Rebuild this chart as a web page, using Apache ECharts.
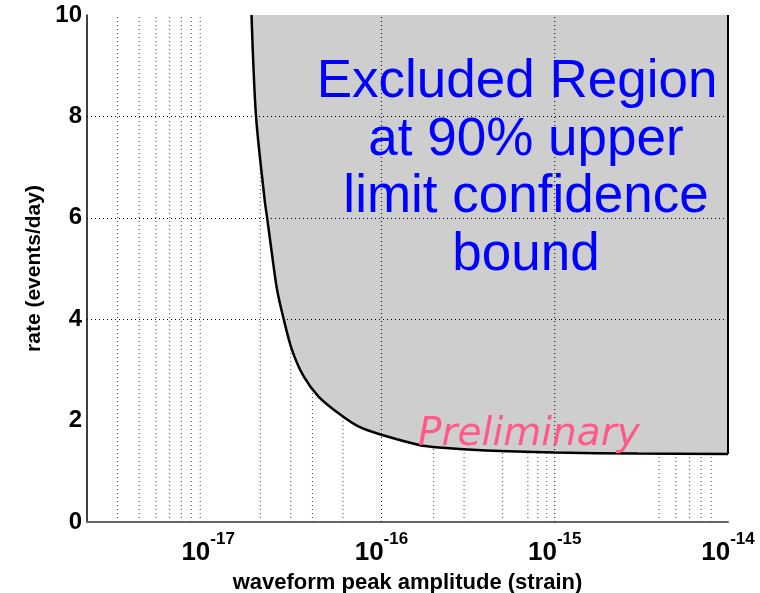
<!DOCTYPE html>
<html>
<head>
<meta charset="utf-8">
<script src="https://cdn.jsdelivr.net/npm/echarts@6/dist/echarts.min.js"></script>
<style>
  html, body { margin: 0; padding: 0; background: #fff; }
  #chart { width: 760px; height: 593px; }
</style>
</head>
<body>
<div id="chart"></div>
<script>
// upper limit curve (amplitude in strain, rate in events/day)
var amplitude = [1.78e-17, 1.89e-17, 2.12e-17, 2.19e-17, 2.32e-17, 2.50e-17, 2.73e-17, 3.05e-17, 3.56e-17,
                 4.35e-17, 5.68e-17, 7.41e-17, 1.0e-16, 1.65e-16, 2.15e-16, 4.0e-16, 1.0e-15, 3.0e-15, 1.0e-14];
var rate = [10, 8, 6.35, 6, 5.36, 4.58, 4, 3.39, 2.87,
            2.47, 2.14, 1.88, 1.72, 1.52, 1.47, 1.41, 1.37, 1.35, 1.34];

// axes
var xMin = 2e-18, xMax = 1e-14;
var yMin = 0, yMax = 10, yStep = 2;

// grid lines that show in the picture
var majorGridX = [1e-16, 1e-15];
var majorGridY = [4, 6, 8];
var minorGridX = [3e-18, 4e-18, 5e-18, 6e-18, 7e-18, 8e-18, 9e-18,
                  2e-17, 3e-17, 4e-17, 6e-17,
                  2e-16, 3e-16, 5e-16, 7e-16, 8e-16, 9e-16,
                  4e-15, 5e-15, 6e-15, 7e-15, 8e-15];

var curve = [];
for (var i = 0; i < amplitude.length; i++) {
    curve.push([amplitude[i], rate[i]]);
}
var last = amplitude.length - 1;
var edge = [[amplitude[last], rate[last]], [amplitude[last], yMax]];

var myChart = echarts.init(document.getElementById('chart'));
var FONT = 'Liberation Sans';

// one vertical dotted line per grid value
function vLines(values, color, z) {
    return values.map(function (v) {
        return {
            type: 'line',
            data: [[v, yMin], [v, yMax]],
            showSymbol: false,
            silent: true,
            z: z,
            lineStyle: { type: [1, 3], color: color, width: 1 }
        };
    });
}

var series = [];
series = series.concat(vLines(minorGridX, '#444', 1));
series.push({   // excluded region
    type: 'line',
    data: curve,
    smooth: 0.3,
    showSymbol: false,
    silent: true,
    z: 2,
    lineStyle: { width: 0 },
    areaStyle: { color: '#cecece', opacity: 1, origin: 'end' }
});
series = series.concat(vLines(majorGridX, '#000', 3));
series.push({   // horizontal grid on top of the fill
    type: 'line',
    data: curve,
    showSymbol: false,
    silent: true,
    z: 3,
    lineStyle: { opacity: 0 },
    markLine: {
        silent: true,
        z: 3,
        symbol: 'none',
        label: { show: false },
        lineStyle: { type: [1, 3], color: '#000', width: 1 },
        data: majorGridY.map(function (v) { return { yAxis: v }; })
    }
});
series.push({   // upper limit curve
    type: 'line',
    data: curve,
    smooth: 0.3,
    showSymbol: false,
    silent: true,
    z: 4,
    lineStyle: { color: '#000', width: 2.5 }
});
series.push({
    type: 'line',
    data: edge,
    showSymbol: false,
    silent: true,
    z: 4,
    lineStyle: { color: '#000', width: 2 }
});

var option = {
    backgroundColor: '#fff',
    animation: false,
    grid: { left: 87, right: 32, top: 15, bottom: 71, outerBoundsMode: 'none' },
    xAxis: {
        type: 'log',
        logBase: 10,
        min: xMin,
        max: xMax,
        name: 'waveform peak amplitude (strain)',
        nameLocation: 'middle',
        nameGap: 50,
        nameTextStyle: { fontFamily: FONT, fontSize: 22, fontWeight: 'bold', color: '#000' },
        axisLine: { lineStyle: { color: '#666', width: 2 } },
        axisTick: { show: false },
        splitLine: { show: false },
        axisLabel: {
            margin: 9,
            formatter: function (v) {
                var e = Math.log10(v);
                if (Math.abs(e - Math.round(e)) > 1e-6) return '';
                return '{b|10}{e|' + Math.round(e) + '}';
            },
            rich: {
                b: { fontFamily: FONT, fontSize: 26, fontWeight: 'bold', color: '#000', verticalAlign: 'bottom', padding: [9, 0, 0, 0] },
                e: { fontFamily: FONT, fontSize: 17, fontWeight: 'bold', color: '#000', verticalAlign: 'top' }
            }
        }
    },
    yAxis: {
        type: 'value',
        min: yMin,
        max: yMax,
        interval: yStep,
        name: 'rate (events/day)',
        nameLocation: 'middle',
        nameGap: 40,
        nameTextStyle: { fontFamily: FONT, fontSize: 21, fontWeight: 'bold', color: '#000' },
        axisLine: { show: true, lineStyle: { color: '#000', width: 1.5 } },
        axisTick: { show: false },
        splitLine: { show: false },
        axisLabel: { margin: 5, fontFamily: FONT, fontSize: 24, fontWeight: 'bold', color: '#000' }
    },
    series: series,
    graphic: [
        {
            type: 'text',
            x: 517,
            y: 54,
            z: 10,
            style: {
                text: 'Excluded Region',
                fill: '#0000ff',
                fontFamily: FONT,
                fontSize: 53,
                lineHeight: 57.5,
                align: 'center',
                verticalAlign: 'top'
            }
        },
        {
            type: 'text',
            x: 526,
            y: 111.5,
            z: 10,
            style: {
                text: 'at 90% upper\nlimit confidence\nbound',
                fill: '#0000ff',
                fontFamily: FONT,
                fontSize: 53,
                lineHeight: 57.5,
                align: 'center',
                verticalAlign: 'top'
            }
        },
        {
            type: 'text',
            x: 418,
            y: 435,
            z: 10,
            style: {
                text: 'Preliminary',
                fill: '#ff5a87',
                fontFamily: 'DejaVu Sans',
                fontStyle: 'oblique',
                fontSize: 39,
                align: 'left',
                verticalAlign: 'middle'
            }
        }
    ]
};

if (option && typeof option === "object") {
    myChart.setOption(option, true);
}
</script>
</body>
</html>
